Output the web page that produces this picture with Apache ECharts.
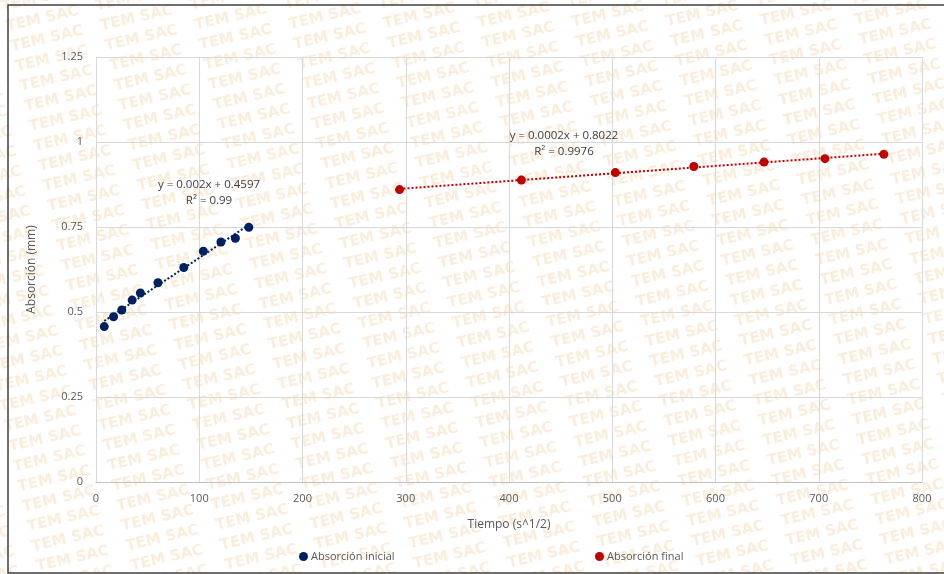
<!DOCTYPE html>
<html>
<head>
<meta charset="utf-8">
<script src="https://cdn.jsdelivr.net/npm/echarts@6/dist/echarts.min.js"></script>
<style>html,body{margin:0;padding:0;background:#fff}#c{width:944px;height:574px}</style>
</head>
<body>
<div id="c"></div>
<script>
// ---- data ----
const seriesNames = ['Absorción inicial', 'Absorción final'];
const inicialX = [8, 17, 25, 35, 43, 60, 85, 104, 121, 135, 148];
const inicialY = [0.457, 0.486, 0.506, 0.535, 0.556, 0.586, 0.631, 0.679, 0.706, 0.717, 0.749];
const finalX = [294, 412, 503, 579, 647, 706, 763];
const finalY = [0.860, 0.888, 0.910, 0.928, 0.941, 0.951, 0.964];
const trendLabelsInicial = ['y = 0.002x + 0.4597', 'R² = 0.99'];
const trendLabelsFinal = ['y = 0.0002x + 0.8022', 'R² = 0.9976'];
const xAxisName = 'Tiempo (s^1/2)';
const yAxisName = 'Absorción (mm)';
const watermarkText = 'TEM SAC';

function zip(xs, ys) { return xs.map((x, i) => [x, ys[i]]); }
function fitLine(xs, ys) {
  const n = xs.length;
  const mx = xs.reduce((a, b) => a + b, 0) / n;
  const my = ys.reduce((a, b) => a + b, 0) / n;
  let sxy = 0, sxx = 0;
  for (let i = 0; i < n; i++) { sxy += (xs[i] - mx) * (ys[i] - my); sxx += (xs[i] - mx) * (xs[i] - mx); }
  const m = sxy / sxx, b = my - m * mx;
  const x0 = Math.min(...xs), x1 = Math.max(...xs);
  return [[x0, m * x0 + b], [x1, m * x1 + b]];
}

const FONT = '"Open Sans", "Liberation Sans", sans-serif';
const TXT = '#595959';
const BLUE = '#002060';
const RED = '#c00000';

// watermark (decoration)
const wm = [];
const th = 13 * Math.PI / 180;
for (let i = -40; i < 50; i++) {
  for (let j = -4; j < 16; j++) {
    const x = j * 92, y = i * 20.5;
    const sx = x * Math.cos(th) + y * Math.sin(th);
    const sy = -x * Math.sin(th) + y * Math.cos(th);
    if (sx < -100 || sx > 1044 || sy < -40 || sy > 620) continue;
    wm.push({
      type: 'text', x: sx, y: sy, rotation: th, silent: true,
      style: { text: watermarkText, fill: 'rgba(240,180,110,0.24)', font: 'bold 15px "DejaVu Sans", sans-serif' }
    });
  }
}

const chart = echarts.init(document.getElementById('c'), null, { renderer: 'canvas' });
chart.setOption({
  backgroundColor: '#ffffff',
  animation: false,
  grid: { left: 96, right: 22, top: 57, bottom: 92 },
  xAxis: {
    type: 'value', min: 0, max: 800, interval: 100,
    name: xAxisName, nameLocation: 'middle', nameGap: 37,
    nameTextStyle: { color: TXT, fontSize: 12, fontFamily: FONT },
    axisLine: { show: true, lineStyle: { color: '#bfbfbf', width: 1 } },
    axisTick: { show: false },
    axisLabel: { color: TXT, fontSize: 11, fontFamily: FONT, margin: 11 },
    splitLine: { show: true, lineStyle: { color: '#d9d9d9', width: 1 } }
  },
  yAxis: {
    type: 'value', min: 0, max: 1.25, interval: 0.25,
    name: yAxisName, nameLocation: 'middle', nameGap: 58,
    nameTextStyle: { color: TXT, fontSize: 12, fontFamily: FONT },
    axisLine: { show: false },
    axisTick: { show: false },
    axisLabel: { color: TXT, fontSize: 11, fontFamily: FONT, margin: 13 },
    splitLine: { show: true, lineStyle: { color: '#d9d9d9', width: 1 } }
  },
  legend: [
    { data: [seriesNames[0]], left: 294, top: 546, icon: 'circle', itemWidth: 9, itemHeight: 9, itemGap: 4,
      textStyle: { color: TXT, fontSize: 11, fontFamily: FONT, padding: [0, 0, 0, -2] } },
    { data: [seriesNames[1]], left: 590, top: 546, icon: 'circle', itemWidth: 9, itemHeight: 9,
      textStyle: { color: TXT, fontSize: 11, fontFamily: FONT, padding: [0, 0, 0, -2] } }
  ],
  graphic: [
    { type: 'group', z: -10, zlevel: 0, children: wm },
    { type: 'rect', z: 100, silent: true, shape: { x: 8, y: 5, width: 960, height: 568 },
      style: { fill: 'none', stroke: '#404040', lineWidth: 1.5 } },
    { type: 'text', z: 100, x: 209, y: 185, style: { text: trendLabelsInicial[0], fill: '#404040', font: '11.5px ' + FONT, textAlign: 'center', textVerticalAlign: 'middle' } },
    { type: 'text', z: 100, x: 209, y: 201, style: { text: trendLabelsInicial[1], fill: '#404040', font: '11.5px ' + FONT, textAlign: 'center', textVerticalAlign: 'middle' } },
    { type: 'text', z: 100, x: 564, y: 136, style: { text: trendLabelsFinal[0], fill: '#404040', font: '11.5px ' + FONT, textAlign: 'center', textVerticalAlign: 'middle' } },
    { type: 'text', z: 100, x: 564, y: 152, style: { text: trendLabelsFinal[1], fill: '#404040', font: '11.5px ' + FONT, textAlign: 'center', textVerticalAlign: 'middle' } }
  ],
  series: [
    { name: seriesNames[0] + ' tendencia', type: 'line', data: fitLine(inicialX, inicialY), symbol: 'none',
      lineStyle: { color: BLUE, width: 2, type: [2, 2] }, z: 3, silent: true },
    { name: seriesNames[1] + ' tendencia', type: 'line', data: fitLine(finalX, finalY), symbol: 'none',
      lineStyle: { color: RED, width: 2, type: [2, 2] }, z: 3, silent: true },
    { name: seriesNames[0], type: 'scatter', data: zip(inicialX, inicialY), symbol: 'circle', symbolSize: 9,
      itemStyle: { color: BLUE, opacity: 1 }, z: 4 },
    { name: seriesNames[1], type: 'scatter', data: zip(finalX, finalY), symbol: 'circle', symbolSize: 9,
      itemStyle: { color: RED, opacity: 1 }, z: 4 }
  ]
});
</script>
</body>
</html>
